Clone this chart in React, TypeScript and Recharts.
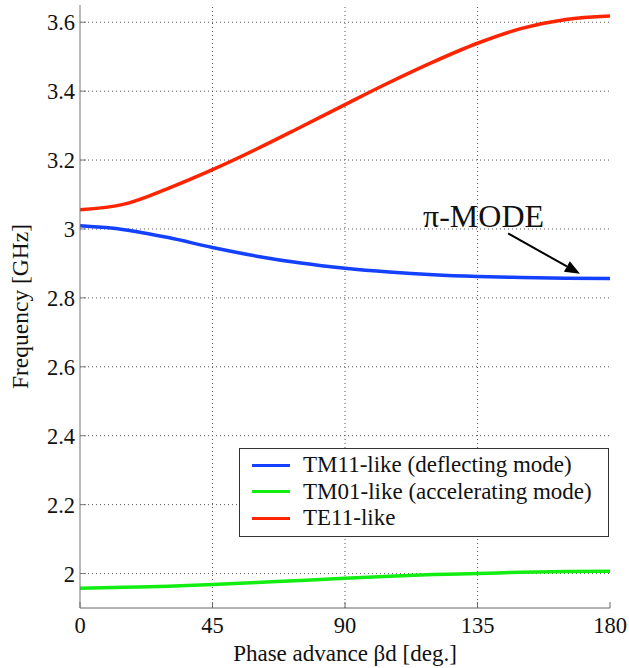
import {
  LineChart,
  Line,
  XAxis,
  YAxis,
  Legend,
  ReferenceLine,
  ReferenceDot,
} from 'recharts';

const phase = [0, 15, 30, 45, 60, 75, 90, 105, 120, 135, 150, 165, 180];
const tm11 = [3.009, 2.998, 2.975, 2.946, 2.921, 2.901, 2.886, 2.875, 2.867, 2.862, 2.859, 2.857, 2.856];
const tm01 = [1.957, 1.96, 1.963, 1.968, 1.974, 1.98, 1.986, 1.992, 1.997, 2.0, 2.004, 2.006, 2.007];
const te11 = [3.056, 3.072, 3.118, 3.172, 3.232, 3.296, 3.361, 3.425, 3.485, 3.539, 3.582, 3.608, 3.618];

const xTicks = [0, 45, 90, 135, 180];
const yTicks = [2, 2.2, 2.4, 2.6, 2.8, 3, 3.2, 3.4, 3.6];

const series = [
  { key: 'tm11', name: 'TM11-like (deflecting mode)', color: '#1440ff' },
  { key: 'tm01', name: 'TM01-like (accelerating mode)', color: '#12ee12' },
  { key: 'te11', name: 'TE11-like', color: '#ff2400' },
];

// annotation anchor points, in data units
const arrowFrom = { x: 145.4, y: 2.987 };
const arrowTo = { x: 169.8, y: 2.87 };
const modeLabel = { x: 116.5, y: 3.006, text: 'π-MODE' };

const FONT = '"Liberation Serif", "Times New Roman", serif';
const tickStyle = { fill: '#111', fontSize: 22.5, fontFamily: FONT };

const data = phase.map((p, i) => ({
  phase: p,
  tm11: tm11[i],
  tm01: tm01[i],
  te11: te11[i],
}));

const Arrow = (props: any) => {
  const { x1, y1, x2, y2 } = props;
  const ang = Math.atan2(y2 - y1, x2 - x1);
  const len = 15;
  const half = 6;
  const bx = x2 - len * Math.cos(ang);
  const by = y2 - len * Math.sin(ang);
  const nx = -Math.sin(ang) * half;
  const ny = Math.cos(ang) * half;
  return (
    <g>
      <line x1={x1} y1={y1} x2={bx} y2={by} stroke="#000" strokeWidth={2} />
      <polygon points={`${x2},${y2} ${bx + nx},${by + ny} ${bx - nx},${by - ny}`} fill="#000" />
    </g>
  );
};

const LegendBox = () => (
  <div
    style={{
      border: '1px solid #333',
      background: '#fff',
      padding: '3px 0 4px 0',
      fontFamily: FONT,
      fontSize: 23,
      color: '#111',
    }}
  >
    {series.map((s) => (
      <div key={s.key} style={{ display: 'flex', alignItems: 'center', height: 26.5 }}>
        <span style={{ display: 'inline-block', width: 38, height: 3, background: s.color, marginLeft: 12, marginRight: 13 }} />
        <span>{s.name}</span>
      </div>
    ))}
  </div>
);

export default function App() {
  return (
    <div style={{ position: 'absolute', left: 0, top: 0, background: '#fff' }}>
      <LineChart width={629} height={668} data={data} margin={{ top: 5, right: 19, left: 0, bottom: 0 }}>
        <XAxis
          dataKey="phase"
          type="number"
          domain={[0, 180]}
          ticks={xTicks}
          height={60}
          tick={tickStyle}
          tickSize={-6}
          tickMargin={15}
          stroke="#666"
          label={{
            content: (p: any) => (
              <text
                x={p.viewBox.x + p.viewBox.width / 2}
                y={661}
                textAnchor="middle"
                fontSize={23}
                fontFamily={FONT}
                fill="#111"
              >
                Phase advance βd [deg.]
              </text>
            ),
          }}
        />
        <XAxis xAxisId="t" orientation="top" type="number" domain={[0, 180]} ticks={xTicks} height={0} tick={false} tickSize={-6} stroke="#888" />
        <YAxis
          type="number"
          domain={[1.9, 3.65]}
          ticks={yTicks}
          width={80}
          tick={tickStyle}
          tickSize={-6}
          tickMargin={11}
          stroke="#777"
          tickFormatter={(v: number) => String(Math.round(v * 10) / 10)}
          label={{
            content: (p: any) => {
              const cy = p.viewBox.y + p.viewBox.height / 2;
              return (
                <text
                  x={28}
                  y={cy}
                  transform={`rotate(-90 28 ${cy})`}
                  textAnchor="middle"
                  fontSize={23.5}
                  fontFamily={FONT}
                  fill="#111"
                >
                  Frequency [GHz]
                </text>
              );
            },
          }}
        />
        <YAxis yAxisId="r" orientation="right" type="number" domain={[1.9, 3.65]} ticks={yTicks} width={0} tick={false} tickSize={-6} stroke="#222" />
        {/* dotted grid, matlab style */}
        {yTicks.map((v) => (
          <ReferenceLine key={`gy${v}`} y={v} stroke="#555" strokeDasharray="1 3" strokeWidth={1} />
        ))}
        {xTicks.slice(1, -1).map((v) => (
          <ReferenceLine key={`gx${v}`} x={v} stroke="#555" strokeDasharray="1 3" strokeWidth={1} />
        ))}
        <Legend
          layout="vertical"
          align="center"
          verticalAlign="middle"
          content={() => <LegendBox />}
          wrapperStyle={{ left: 239, top: 448, width: 370 }}
        />
        {series.map((s) => (
          <Line
            key={s.key}
            type="monotone"
            dataKey={s.key}
            name={s.name}
            stroke={s.color}
            strokeWidth={3.5}
            dot={false}
            isAnimationActive={false}
          />
        ))}
        <ReferenceLine segment={[arrowFrom, arrowTo]} shape={(p: any) => <Arrow {...p} />} ifOverflow="visible" />
        <ReferenceDot
          x={modeLabel.x}
          y={modeLabel.y}
          r={0}
          ifOverflow="visible"
          shape={(p: any) => (
            <text x={p.cx} y={p.cy} fontSize={32} fontFamily={FONT} fill="#111">
              {modeLabel.text}
            </text>
          )}
        />
      </LineChart>
    </div>
  );
}
